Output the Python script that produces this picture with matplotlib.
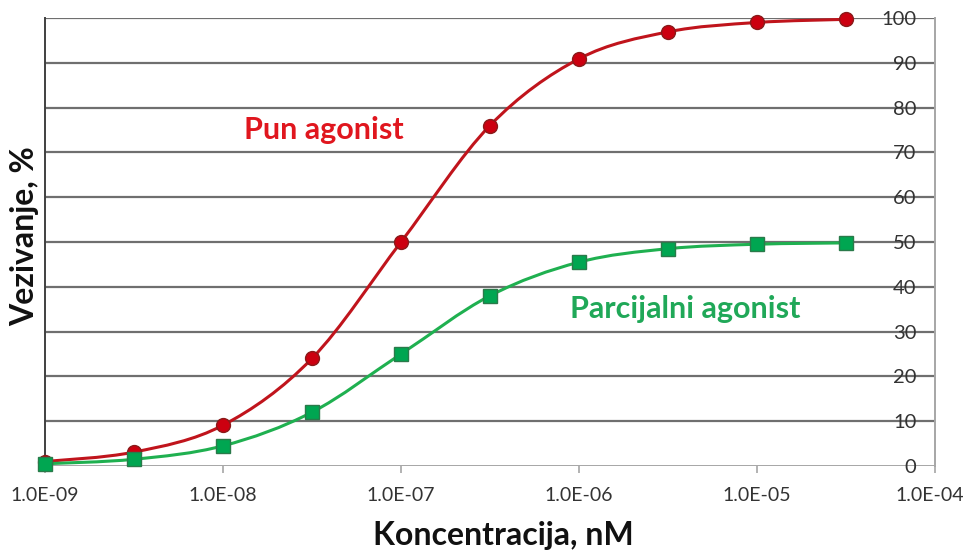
import numpy as np
import matplotlib
matplotlib.use("Agg")
import matplotlib.pyplot as plt
import matplotlib.transforms as mtransforms
from matplotlib.path import Path
from matplotlib.patches import PathPatch
from matplotlib.ticker import FuncFormatter, FixedLocator

plt.rcParams['font.family'] = ['Lato', 'DejaVu Sans']

# data
conc = [1e-9, 3.16e-9, 1e-8, 3.16e-8, 1e-7, 3.16e-7, 1e-6, 3.16e-6, 1e-5, 3.16e-5]
full = [1.0, 3.1, 9.1, 24.0, 50.0, 76.0, 90.9, 96.9, 99.0, 99.7]
partial = [0.5, 1.5, 4.5, 12.0, 25.0, 38.0, 45.5, 48.5, 49.5, 49.8]
xticks = [1e-9, 1e-8, 1e-7, 1e-6, 1e-5, 1e-4]
yticks = [0, 10, 20, 30, 40, 50, 60, 70, 80, 90, 100]


def smooth_path(xs, ys):
    # Excel-like smoothed line: cubic Bezier through the points (in log-x space)
    lx = np.log10(xs)
    pts = np.column_stack([lx, ys])
    n = len(pts)
    verts = [pts[0]]
    codes = [Path.MOVETO]
    for i in range(n - 1):
        p0 = pts[max(i - 1, 0)]
        p1 = pts[i]
        p2 = pts[i + 1]
        p3 = pts[min(i + 2, n - 1)]
        c1 = p1 + (p2 - p0) / 6.0
        c2 = p2 - (p3 - p1) / 6.0
        verts += [c1, c2, p2]
        codes += [Path.CURVE4] * 3
    verts = np.array(verts)
    verts[:, 0] = 10 ** verts[:, 0]
    return Path(verts, codes)


fig = plt.figure(figsize=(9.69, 5.52), dpi=100)
ax = fig.add_axes([0.0464, 0.1558, 0.9186, 0.8116])
ax.set_xscale('log')
ax.set_xlim(1e-9, 1e-4)
ax.set_ylim(0, 100)

# gridlines
for v in yticks[1:]:
    ax.axhline(v, color='#6f6f6f', lw=1.6, zorder=1)
ax.axhline(0, color='#a6a6a6', lw=1.4, zorder=1)

red_line = '#c0141c'
green_line = '#1fb050'
ax.add_patch(PathPatch(smooth_path(conc, full), fill=False, edgecolor=red_line, lw=2.2, zorder=3))
ax.add_patch(PathPatch(smooth_path(conc, partial), fill=False, edgecolor=green_line, lw=2.2, zorder=3))
ax.plot(conc, full, 'o', ms=10, mfc='#cc0010', mec='#8a1a1a', mew=1.0, zorder=4, clip_on=False)
ax.plot(conc, partial, 's', ms=9.5, mfc='#00a651', mec='#2a7a4a', mew=1.0, zorder=4, clip_on=False)

ax.text(3.7e-8, 75, 'Pun agonist', color='#e0161e', fontsize=22, fontweight='bold',
        ha='center', va='center')
ax.text(3.95e-6, 35, 'Parcijalni agonist', color='#20a858', fontsize=22, fontweight='bold',
        ha='center', va='center')

# spines
for s in ['top', 'bottom']:
    ax.spines[s].set_visible(False)
ax.spines['left'].set_color('#404040')
ax.spines['left'].set_linewidth(1.4)
ax.spines['right'].set_color('#a6a6a6')
ax.spines['right'].set_linewidth(1.4)

ax.xaxis.set_major_locator(FixedLocator(xticks))
ax.xaxis.set_minor_locator(FixedLocator([]))
ax.xaxis.set_major_formatter(FuncFormatter(lambda v, p: '1.0E-%02d' % round(-np.log10(v))))
ax.tick_params(axis='x', direction='out', length=5, width=1.2, color='#a6a6a6',
               labelsize=14, labelcolor='#333333', pad=10)
# keep the last label inside the figure
last = ax.get_xticklabels()[-1]
last.set_transform(last.get_transform() + mtransforms.ScaledTranslation(-5 / 100, 0, fig.dpi_scale_trans))

ax.yaxis.set_major_locator(FixedLocator(yticks))
ax.tick_params(axis='y', left=False, right=False, labelleft=False, labelright=True,
               labelsize=14.5, labelcolor='#333333', pad=-17)
for lab in ax.get_yticklabels():
    lab.set_horizontalalignment('right')

fig.text(503 / 969, 1 - 536 / 552, 'Koncentracija, nM', fontsize=23, fontweight='bold',
         color='#111111', ha='center', va='center')
fig.text(25 / 969, 1 - 236 / 552, 'Vezivanje, %', fontsize=23, fontweight='bold',
         color='#111111', ha='center', va='center', rotation=90)

fig.savefig('out.png', dpi=100, facecolor='white')
